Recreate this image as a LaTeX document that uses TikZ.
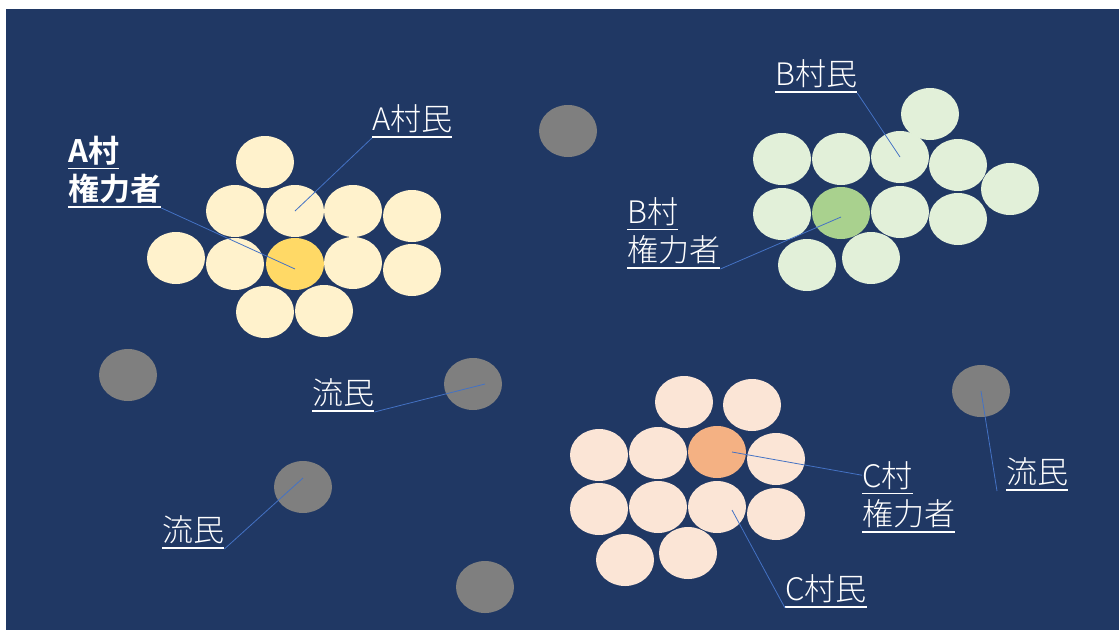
\documentclass[tikz,border=0pt]{standalone}
\usepackage{fontspec}
\IfFontExistsTF{Noto Sans CJK JP Light}
  {\setmainfont{Noto Sans CJK JP Light}[BoldFont={Noto Sans CJK JP Bold}]}
  {\setmainfont{Noto Sans CJK JP}}
\usepackage{tikz}
\usetikzlibrary{shapes.geometric}
\definecolor{navy}{HTML}{203864}
\definecolor{creamA}{HTML}{FFF2CC}
\definecolor{goldA}{HTML}{FFD966}
\definecolor{paleB}{HTML}{E2F0D9}
\definecolor{greenB}{HTML}{A9D18E}
\definecolor{paleC}{HTML}{FBE5D6}
\definecolor{orangeC}{HTML}{F4B183}
\definecolor{drifter}{HTML}{7F7F7F}
\definecolor{leader}{HTML}{4472C4}
\newcommand{\uln}[1]{\setbox0=\hbox{#1}\rlap{\rule[-7pt]{\wd0}{1.6pt}}\box0}

\begin{document}
\begin{tikzpicture}[x=1pt, y=-1pt,
  dot/.style={ellipse, minimum width=58pt, minimum height=52pt, inner sep=0pt},
  lbl/.style={anchor=south west, inner sep=0pt, text=white, align=left, font=\fontsize{31}{38.5}\selectfont},
  lead/.style={draw=leader, line width=0.8pt}]

% Rahmen
\useasboundingbox (0,0) rectangle (1119,630);
\fill[navy] (6,9) rectangle (1119,630);

% Dorf A
\foreach \n/\x/\y in {1/265/162, 2/235/211, 3/295/211, 4/353/211, 5/412/216, 6/176/258, 7/235/264, 9/353/263, 10/412/270, 11/265/312, 12/324/311}
  \node[dot, fill=creamA] (a\n) at (\x,\y) {};
\node[dot, fill=goldA] (a8) at (295,264) {};

% Dorf B
\foreach \n/\x/\y in {1/930/114, 2/782/159, 3/841/159, 4/900/157, 5/958/165, 6/1010/189, 7/782/214, 9/900/212, 10/958/219, 11/807/265, 12/871/258}
  \node[dot, fill=paleB] (b\n) at (\x,\y) {};
\node[dot, fill=greenB] (b8) at (841,213) {};

% Dorf C
\foreach \n/\x/\y in {1/684/402, 2/752/405, 3/599/455, 4/658/453, 6/776/459, 7/599/509, 8/658/507, 9/717/507, 10/776/514, 11/625/560, 12/688/553}
  \node[dot, fill=paleC] (c\n) at (\x,\y) {};
\node[dot, fill=orangeC] (c5) at (717,452) {};

% Fluechtlinge
\foreach \n/\x/\y in {1/568/131, 2/128/375, 3/473/384, 4/303/487, 5/485/587, 6/981/391}
  \node[dot, fill=drifter] (g\n) at (\x,\y) {};

% Beschriftung
\node[lbl, font=\fontsize{31}{38.5}\selectfont\bfseries] (aboss) at (68,208) {\uln{A村}\\\uln{権力者}};
\node[lbl] (avil) at (372,138) {\uln{A村民}};
\node[lbl] (bvil) at (775,93) {\uln{B村民}};
\node[lbl] (bboss) at (627,269) {\uln{B村}\\\uln{権力者}};
\node[lbl] (cboss) at (862,533) {\uln{C村}\\\uln{権力者}};
\node[lbl] (cvil) at (785,608) {\uln{C村民}};
\node[lbl] (drift1) at (312,412) {\uln{流民}};
\node[lbl] (drift2) at (162,549) {\uln{流民}};
\node[lbl] (drift3) at (1006,491) {\uln{流民}};

% Hinweislinien
\draw[lead] (avil.south west) -- (a3.center);
\draw[lead] (aboss.south east) -- ([yshift=-5pt]a8.center);
\draw[lead] (bvil.south east) -- (b4.center);
\draw[lead] (bboss.south east) -- ([yshift=-4pt]b8.center);
\draw[lead] ([xshift=15pt]c5.center) -- ([yshift=-14pt]cboss.north west);
\draw[lead] (cvil.south west) -- ([xshift=15pt,yshift=-3pt]c9.center);
\draw[lead] (drift1.south east) -- ([xshift=12pt]g3.center);
\draw[lead] (drift2.south east) -- ([yshift=9pt]g4.center);
\draw[lead] (g6.center) -- ([xshift=-9pt]drift3.south west);
\end{tikzpicture}
\end{document}
